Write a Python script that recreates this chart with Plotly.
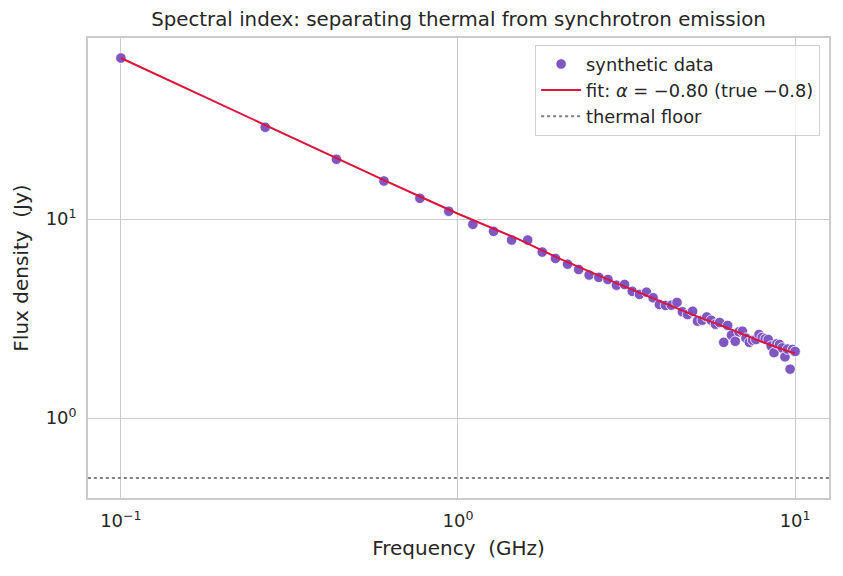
import plotly.graph_objects as go

# Frequencies (GHz) of the synthetic data points
freq = [0.100, 0.268, 0.436, 0.603, 0.771, 0.939, 1.107, 1.275, 1.442, 1.610,
        1.778, 1.946, 2.114, 2.281, 2.449, 2.617, 2.785, 2.953, 3.120, 3.288,
        3.456, 3.624, 3.792, 3.959, 4.127, 4.295, 4.463, 4.631, 4.798, 4.966,
        5.134, 5.302, 5.470, 5.637, 5.805, 5.973, 6.141, 6.309, 6.476, 6.644,
        6.812, 6.980, 7.148, 7.315, 7.483, 7.651, 7.819, 7.987, 8.154, 8.322,
        8.490, 8.658, 8.826, 8.993, 9.161, 9.329, 9.497, 9.665, 9.832, 10.000]

# Flux density (Jy)
flux = [64.4, 28.9, 19.97, 15.53, 12.71, 10.94, 9.40, 8.67, 7.84, 7.84,
        6.82, 6.34, 5.93, 5.58, 5.23, 5.09, 4.97, 4.65, 4.69, 4.33,
        4.18, 4.29, 4.02, 3.72, 3.68, 3.69, 3.81, 3.42, 3.31, 3.44,
        3.07, 3.10, 3.22, 3.10, 2.96, 3.02, 2.40, 2.92, 2.61, 2.43,
        2.71, 2.73, 2.52, 2.40, 2.46, 2.48, 2.63, 2.54, 2.50, 2.48,
        2.30, 2.13, 2.36, 2.34, 2.25, 2.03, 2.22, 1.76, 2.21, 2.16]

# Fitted curve values
fit_freq = [0.100, 0.268, 0.436, 0.603, 0.771, 1.0, 1.5, 2.0, 3.0, 4.0, 5.0, 6.0, 7.0, 8.0, 9.0, 10.0]
fit_flux = [64.4, 29.56, 20.2, 15.67, 12.97, 10.63, 7.96, 6.32, 4.71, 3.86, 3.29, 2.93, 2.63, 2.41, 2.24, 2.11]

thermal_floor = 0.5

FONT = "DejaVu Sans"
GRID = "#cccccc"
TXT = "#262626"

fig = go.Figure()
fig.add_trace(go.Scatter(
    x=freq, y=flux, mode="markers", name="synthetic data",
    marker=dict(color="#7e57c2", size=10.5, line=dict(color="white", width=0.8)),
    legendgroup="a"))
fig.add_trace(go.Scatter(
    x=fit_freq, y=fit_flux, mode="lines",
    name="fit: <i>α</i> = −0.80 (true −0.8)",
    line=dict(color="#dc143c", width=2), legendgroup="b"))
fig.add_trace(go.Scatter(
    x=[0.0798, 12.6], y=[thermal_floor, thermal_floor], mode="lines",
    name="thermal floor",
    line=dict(color="#808080", width=2, dash="dot"), legendgroup="c"))

fig.update_layout(
    width=843, height=576,
    margin=dict(l=88, r=12, t=38, b=78),
    paper_bgcolor="white", plot_bgcolor="white",
    font=dict(family=FONT, color=TXT, size=17),
    title=dict(text="Spectral index: separating thermal from synchrotron emission",
               x=0.5, xref="paper", xanchor="center", y=1 - 19/576, yanchor="middle",
               font=dict(size=19.8, color=TXT)),
    showlegend=True,
    legend=dict(x=0.988, y=0.985, xanchor="right", yanchor="top",
                bgcolor="rgba(255,255,255,0.8)", bordercolor="#d0d0d0", borderwidth=1,
                font=dict(size=17.8, color=TXT), tracegroupgap=0, traceorder="grouped",
                itemwidth=40),
)
fig.update_xaxes(
    type="log", range=[-1.0976, 1.1006],
    tickvals=[0.1, 1, 10], ticktext=["10<sup>−1</sup>", "10<sup>0</sup>", "10<sup>1</sup>"],
    showgrid=True, gridcolor=GRID, gridwidth=1.3,
    showline=True, linecolor=GRID, linewidth=1.6, mirror=True,
    ticks="outside", ticklen=6, tickcolor="rgba(0,0,0,0)", zeroline=False, tickfont=dict(size=18),
    title=dict(text="Frequency\u00a0\u00a0(GHz)", font=dict(size=20), standoff=11))
fig.update_yaxes(
    type="log", range=[-0.402, 1.9095],
    tickvals=[1, 10], ticktext=["10<sup>0</sup>", "10<sup>1</sup>"],
    showgrid=True, gridcolor=GRID, gridwidth=1.3,
    showline=True, linecolor=GRID, linewidth=1.6, mirror=True,
    ticks="outside", ticklen=6, tickcolor="rgba(0,0,0,0)", zeroline=False, tickfont=dict(size=18),
    title=dict(text="Flux density\u00a0\u00a0(Jy)", font=dict(size=20), standoff=12))

fig.write_html("out.html")
